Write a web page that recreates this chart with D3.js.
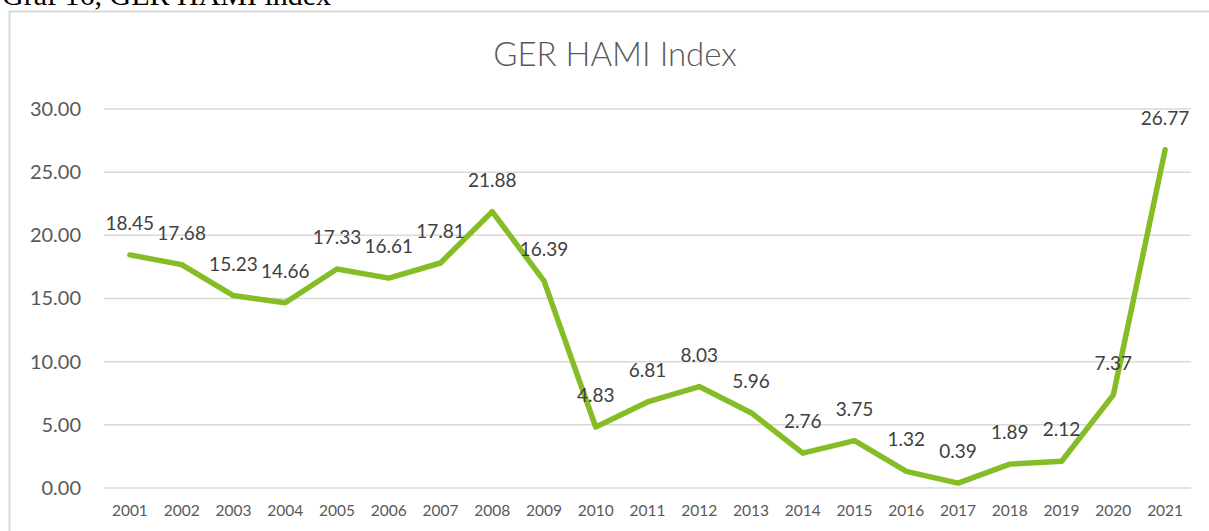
<!DOCTYPE html>
<html>
<head>
<meta charset="utf-8">
<script src="https://cdn.jsdelivr.net/npm/d3@7"></script>
<style>
  body { margin: 0; background: #fff; }
  svg { display: block; }
</style>
</head>
<body>
<div id="chart"></div>
<script>
// chart data
const years = ["2001","2002","2003","2004","2005","2006","2007","2008","2009","2010",
  "2011","2012","2013","2014","2015","2016","2017","2018","2019","2020","2021"];
const hamiValues = [18.45, 17.68, 15.23, 14.66, 17.33, 16.61, 17.81, 21.88, 16.39, 4.83,
  6.81, 8.03, 5.96, 2.76, 3.75, 1.32, 0.39, 1.89, 2.12, 7.37, 26.77];
const yTicks = [0, 5, 10, 15, 20, 25, 30];

const svgWidth = 1209;
const svgHeight = 531;
const margin = { top: 109, right: 18, bottom: 43, left: 104 };

const svg = d3.select("#chart")
  .append("svg")
  .attr("width", svgWidth)
  .attr("height", svgHeight);

// caption above the chart box (cut off at the top, as in the source)
svg.append("text")
  .attr("x", 2)
  .attr("y", 5)
  .style("font-family", "'Liberation Serif', 'Times New Roman', serif")
  .style("font-size", "30px")
  .attr("fill", "#000")
  .text("Graf 16, GER HAMI index");

// chart frame
svg.append("rect")
  .attr("x", 9.5)
  .attr("y", 11.5)
  .attr("width", svgWidth + 20)
  .attr("height", svgHeight + 20)
  .attr("fill", "none")
  .attr("stroke", "#d9d9d9")
  .attr("stroke-width", 2);

// title
svg.append("text")
  .attr("x", 615)
  .attr("y", 66)
  .attr("text-anchor", "middle")
  .style("font-family", "Lato, 'Noto Sans', sans-serif")
  .style("font-weight", 300)
  .style("font-size", "33px")
  .attr("fill", "#595959")
  .text("GER HAMI Index");

// scales
const xScale = d3.scaleBand()
  .domain(years)
  .range([margin.left, svgWidth - margin.right]);

const yScale = d3.scaleLinear()
  .domain([0, 30])
  .range([svgHeight - margin.bottom, margin.top]);

// gridlines
svg.append("g")
  .selectAll("line")
  .data(yTicks)
  .enter()
  .append("line")
  .attr("x1", margin.left)
  .attr("x2", svgWidth - margin.right)
  .attr("y1", d => yScale(d))
  .attr("y2", d => yScale(d))
  .attr("stroke", "#d9d9d9")
  .attr("stroke-width", 1.5);

// y axis labels
const yAxis = svg.append("g")
  .attr("transform", `translate(${margin.left - 23}, 0)`)
  .call(d3.axisLeft(yScale).tickValues(yTicks).tickFormat(d3.format(".2f")).tickSize(0).tickPadding(0));
yAxis.select(".domain").remove();
yAxis.selectAll("text")
  .attr("fill", "#595959")
  .style("font-family", "Lato, 'Noto Sans', sans-serif")
  .style("font-size", "20px");

// x axis labels
const xAxis = svg.append("g")
  .attr("transform", `translate(0, ${svgHeight - margin.bottom})`)
  .call(d3.axisBottom(xScale).tickSize(0).tickPadding(17));
xAxis.select(".domain").remove();
xAxis.selectAll("text")
  .attr("fill", "#595959")
  .style("font-family", "Lato, 'Noto Sans', sans-serif")
  .style("font-size", "15.5px");

// the line
const line = d3.line()
  .x((d, i) => xScale(years[i]) + xScale.bandwidth() / 2)
  .y(d => yScale(d));

svg.append("path")
  .datum(hamiValues)
  .attr("d", line)
  .attr("fill", "none")
  .attr("stroke", "#84bd26")
  .attr("stroke-width", 5.5)
  .attr("stroke-linejoin", "round")
  .attr("stroke-linecap", "round");

// data labels above each point
svg.append("g")
  .selectAll("text")
  .data(hamiValues)
  .enter()
  .append("text")
  .attr("x", (d, i) => xScale(years[i]) + xScale.bandwidth() / 2)
  .attr("y", d => yScale(d) - 25)
  .attr("text-anchor", "middle")
  .attr("fill", "#404040")
  .style("font-family", "Lato, 'Noto Sans', sans-serif")
  .style("font-size", "19px")
  .text(d => d.toFixed(2));
</script>
</body>
</html>
